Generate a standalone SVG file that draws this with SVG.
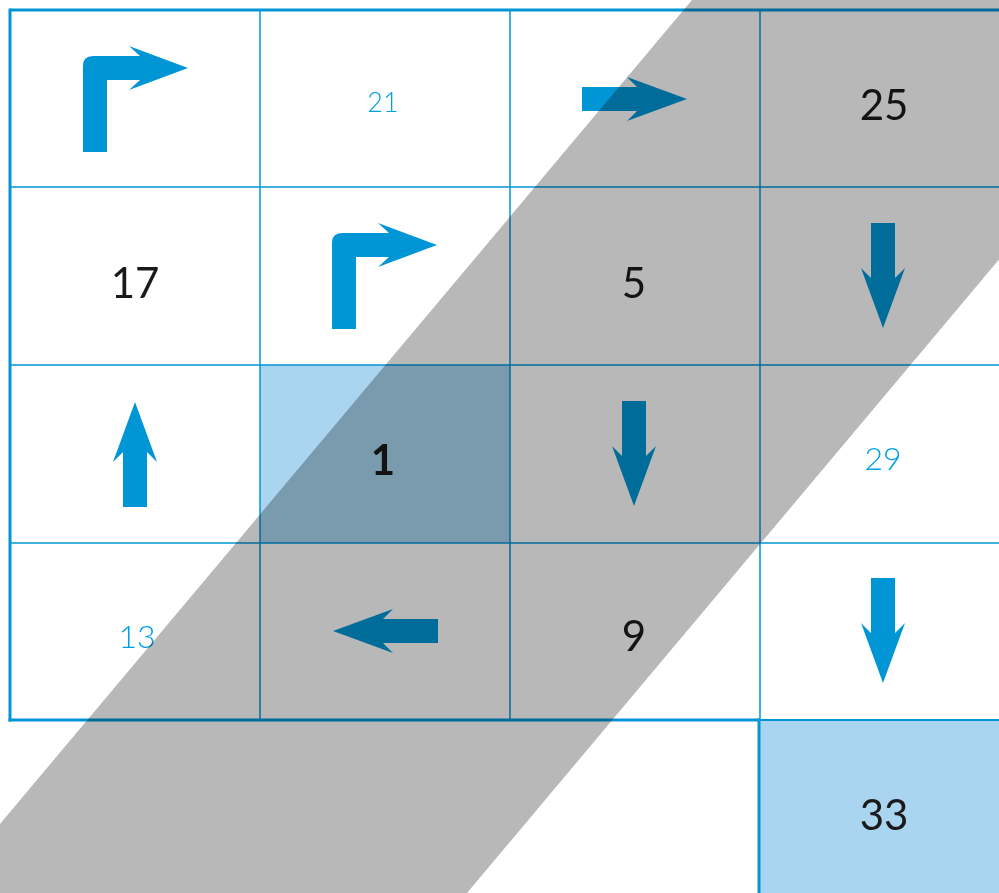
<svg xmlns="http://www.w3.org/2000/svg" width="999" height="893" viewBox="0 0 999 893">
<style>
.ln{stroke:#0096d6;stroke-width:1.5;fill:none}
.lnb{stroke:#0096d6;stroke-width:3;fill:none}
.ar{fill:#0096d6}
.num{font-family:Lato,"Liberation Sans",sans-serif;font-size:42px;fill:#1a1a1a;text-anchor:middle}
.sm{font-family:Lato,"Liberation Sans",sans-serif;font-size:32px;font-weight:300;fill:#00a0e3;text-anchor:middle}
.band{fill:#b8b8b8;mix-blend-mode:multiply}
</style>
<defs>
<path id="bent" d="M83,152 L83,66 Q83,56 93,56 L140,56 L129,46 L188,68 L129,90 L140,80 L107,80 L107,152 Z"/>
<path id="right" d="M0,-12 L55,-12 L45,-22 L105,0 L45,22 L55,12 L0,12 Z"/>
</defs>
<rect width="999" height="893" fill="#fff"/>
<g id="cell-1-fill"><rect x="260" y="365" width="250" height="178" fill="#a9d5f0"/></g>
<g id="cell-33-fill"><rect x="760" y="720" width="239" height="173" fill="#a9d5f0"/></g>
<g id="grid">
<line class="ln" x1="260" y1="10" x2="260" y2="720"/>
<line class="ln" x1="510" y1="10" x2="510" y2="720"/>
<line class="ln" x1="760" y1="10" x2="760" y2="720"/>
<line class="ln" x1="10" y1="187" x2="999" y2="187"/>
<line class="ln" x1="10" y1="365" x2="999" y2="365"/>
<line class="ln" x1="10" y1="543" x2="999" y2="543"/>
<line class="ln" x1="760" y1="720" x2="999" y2="720" style="stroke-width:2"/>
<line class="lnb" x1="10" y1="10" x2="999" y2="10"/>
<line class="lnb" x1="10" y1="8.5" x2="10" y2="721.5"/>
<line class="lnb" x1="8.5" y1="720" x2="760" y2="720"/>
<line class="lnb" x1="759" y1="718.5" x2="759" y2="893"/>
</g>
<g id="connectors">
<use href="#bent" class="ar"/>
<use href="#bent" class="ar" transform="translate(249,177)"/>
<use href="#right" class="ar" transform="translate(582,99)"/>
<use href="#right" class="ar" transform="translate(883,223) rotate(90)"/>
<use href="#right" class="ar" transform="translate(135,507) rotate(-90)"/>
<use href="#right" class="ar" transform="translate(634,401) rotate(90)"/>
<use href="#right" class="ar" transform="translate(438,631) rotate(180)"/>
<use href="#right" class="ar" transform="translate(883,578) rotate(90)"/>
</g>
<g id="n21"><text class="sm" x="383" y="112" style="font-size:27px">21</text></g>
<g id="n25"><text class="num" x="884" y="120">25</text></g>
<g id="n17"><text class="num" x="135" y="298">17</text></g>
<g id="n5"><text class="num" x="634" y="298">5</text></g>
<g id="n1"><text class="num" x="383" y="475" font-weight="bold">1</text></g>
<g id="n29"><text class="sm" x="883" y="470">29</text></g>
<g id="n13"><text class="sm" x="137" y="648">13</text></g>
<g id="n9"><text class="num" x="634" y="651">9</text></g>
<g id="n33"><text class="num" x="884" y="830">33</text></g>
<polygon class="band" points="692,0 1217,0 467,893 -58,893"/>
</svg>
